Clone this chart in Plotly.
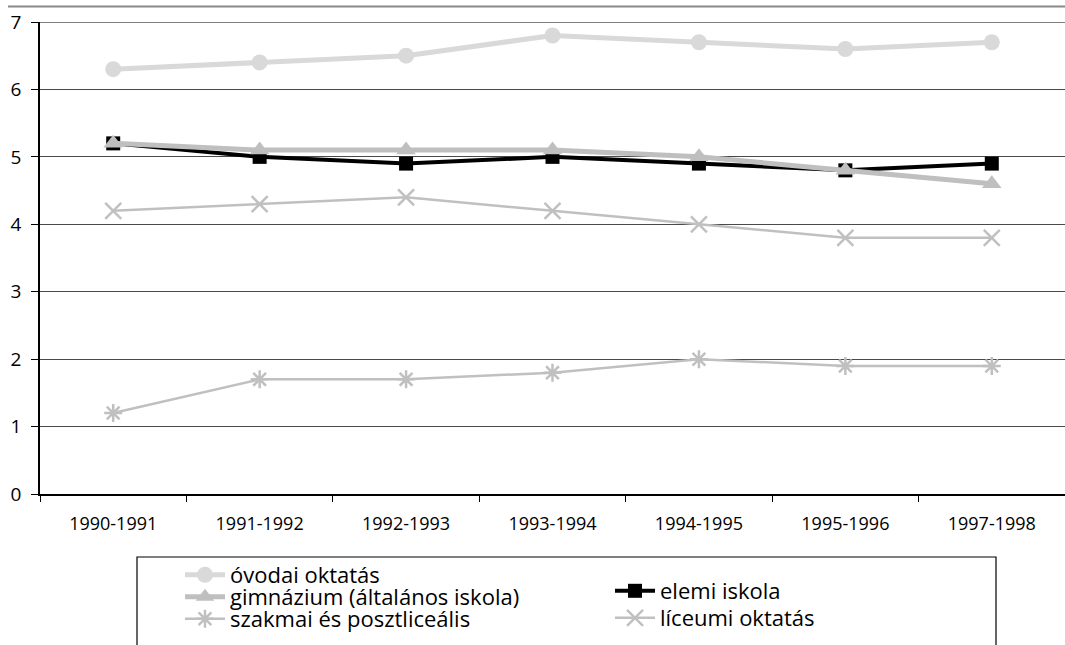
import plotly.graph_objects as go

categories = ["1990-1991", "1991-1992", "1992-1993", "1993-1994", "1994-1995", "1995-1996", "1997-1998"]
ovodai = [6.3, 6.4, 6.5, 6.8, 6.7, 6.6, 6.7]
elemi = [5.2, 5.0, 4.9, 5.0, 4.9, 4.8, 4.9]
gimnazium = [5.2, 5.1, 5.1, 5.1, 5.0, 4.8, 4.6]
liceumi = [4.2, 4.3, 4.4, 4.2, 4.0, 3.8, 3.8]
szakmai = [1.2, 1.7, 1.7, 1.8, 2.0, 1.9, 1.9]
y_ticks = [0, 1, 2, 3, 4, 5, 6, 7]

W, H = 1065, 645
L, R, T, B = 40, 1065, 22, 494

def px(x):
    return (x - L) / (R - L)

def py(y):
    return (B - y) / (B - T)

font = "Open Sans"
leg_font = dict(family=font, size=22, color="black")

fig = go.Figure()
fig.add_trace(go.Scatter(x=categories, y=ovodai, name="óvodai oktatás", mode="lines+markers",
                         line=dict(color="#d9d9d9", width=5),
                         marker=dict(symbol="circle", size=16, color="#d9d9d9"), legend="legend"))
fig.add_trace(go.Scatter(x=categories, y=elemi, name="elemi iskola", mode="lines+markers",
                         line=dict(color="#000000", width=4),
                         marker=dict(symbol="square", size=14, color="#000000"), legend="legend4"))
fig.add_trace(go.Scatter(x=categories, y=gimnazium, name="gimnázium (általános iskola)", mode="lines+markers",
                         line=dict(color="#bfbfbf", width=5),
                         marker=dict(symbol="triangle-up", size=17, color="#bfbfbf"), legend="legend2"))
fig.add_trace(go.Scatter(x=categories, y=liceumi, name="líceumi oktatás", mode="lines+markers",
                         line=dict(color="#c0c0c0", width=2.5),
                         marker=dict(symbol="x-thin-open", size=16, color="#c0c0c0",
                                     line=dict(color="#c0c0c0", width=2.5)), legend="legend5"))
fig.add_trace(go.Scatter(x=categories, y=szakmai, name="szakmai és posztliceális", mode="lines+markers",
                         line=dict(color="#c0c0c0", width=2.5),
                         marker=dict(symbol="asterisk-open", size=15, color="#c0c0c0",
                                     line=dict(color="#c0c0c0", width=2.5)), legend="legend3"))

def leg(xpx, ypx):
    return dict(x=px(xpx), y=py(ypx), xanchor="left", yanchor="middle", font=leg_font,
                bgcolor="rgba(0,0,0,0)", itemwidth=40, borderwidth=0)

fig.update_layout(
    width=W, height=H,
    margin=dict(l=L, r=W - R, t=T, b=H - B),
    paper_bgcolor="white", plot_bgcolor="white",
    font=dict(family=font, color="black"),
    showlegend=True,
    legend=leg(180, 575),
    legend2=leg(180, 597),
    legend3=leg(180, 619),
    legend4=leg(610, 591),
    legend5=leg(610, 618),
    xaxis=dict(type="category", tickson="boundaries", ticks="outside", ticklen=6,
               tickcolor="black", showline=True, linecolor="black", linewidth=1.5,
               showgrid=False, tickfont=dict(family=font, size=18, color="black"),
               ticklabelstandoff=13,
               range=[-0.5, len(categories) - 0.5], fixedrange=True),
    yaxis=dict(range=[0, 7], tickvals=y_ticks, ticks="outside", ticklen=7, tickcolor="black",
               showline=True, linecolor="black", linewidth=1.5,
               showgrid=True, gridcolor="#4a4a4a", gridwidth=1, zeroline=False,
               ticklabelstandoff=6,
               tickfont=dict(family=font, size=19, color="black"), fixedrange=True),
    shapes=[
        dict(type="line", xref="paper", yref="paper", x0=px(8), x1=1.0, y0=py(6.5), y1=py(6.5),
             line=dict(color="#888888", width=2)),
        dict(type="line", xref="paper", yref="y", x0=0, x1=1, y0=7, y1=7,
             line=dict(color="black", width=1.2)),
        dict(type="rect", xref="paper", yref="paper", x0=px(137), x1=px(996), y0=py(557), y1=py(700),
             line=dict(color="black", width=1.2)),
    ],
)

fig.write_html("out.html", post_script="document.body.style.margin='0';",
               config={"displayModeBar": False})
